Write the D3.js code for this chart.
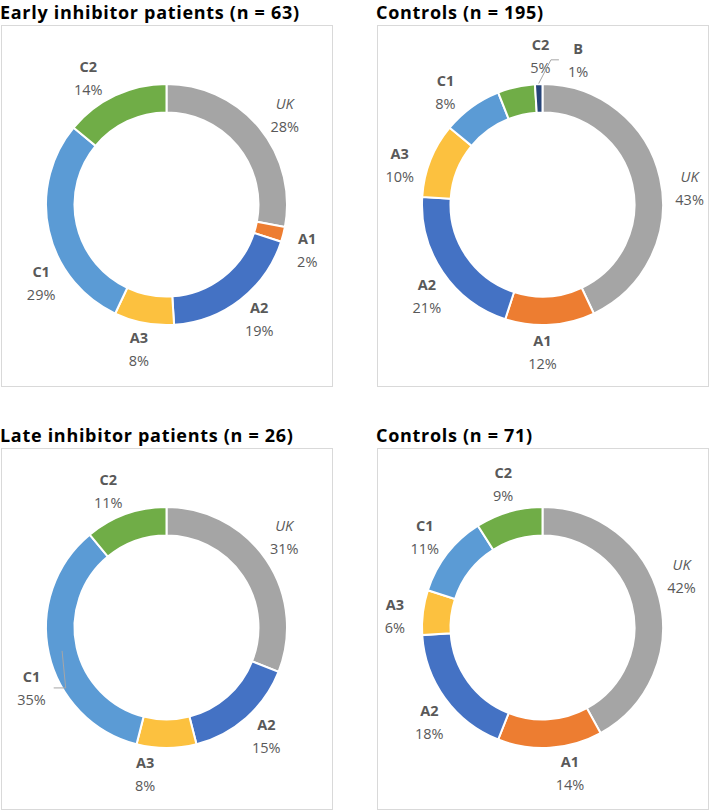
<!DOCTYPE html>
<html>
<head>
<meta charset="utf-8">
<script src="https://cdn.jsdelivr.net/npm/d3@7"></script>
<style>
  html, body { margin: 0; padding: 0; background: #ffffff; }
  svg { display: block; }
</style>
</head>
<body>
<svg id="chart" width="709" height="810"></svg>
<script>
// ---------------- DATA ----------------
const categories = ["UK", "A1", "A2", "A3", "C1", "C2", "B"];
const earlyInhibitorValues = [28, 2, 19, 8, 29, 14, 0];
const controls195Values   = [43, 12, 21, 10, 8, 5, 1];
const lateInhibitorValues  = [31, 0, 15, 8, 35, 11, 0];
const controls71Values     = [42, 14, 18, 6, 11, 9, 0];
const panelTitles = [
  "Early inhibitor patients (n = 63)",
  "Controls (n = 195)",
  "Late inhibitor patients (n = 26)",
  "Controls (n = 71)"
];

// ---------------- STYLE / LAYOUT ----------------
const colors = {
  UK: "#A5A5A5", A1: "#ED7D31", A2: "#4472C4", A3: "#FCC13F",
  C1: "#5B9BD5", C2: "#70AD47", B: "#264478"
};
const fontFamily = "'Open Sans', Lato, 'Liberation Sans', sans-serif";
const outerR = 120.5, innerR = 92, labelR = 148;

const panels = [
  { values: earlyInhibitorValues, box: { x: 1, y: 25, w: 331, h: 361 },
    nudge: { UK: 2.6, A1: 3.6, A2: -1, A3: 0, C1: -19.5, C2: -6.7 }, leaders: {} },
  { values: controls195Values, box: { x: 377, y: 25, w: 331, h: 361 },
    nudge: { UK: 6.3, A1: 3.6, A2: -4.4, A3: -6.3, C1: -5, C2: 11.8, B: 15.7 },
    leaders: { B: 121 } },
  { values: lateInhibitorValues, box: { x: 1, y: 448, w: 331, h: 361 },
    nudge: { UK: -3.1, A2: -1, A3: 8.3, C1: -11.5, C2: -3.4 }, leaders: { C1: 107 } },
  { values: controls71Values, box: { x: 377, y: 448, w: 331, h: 361 },
    nudge: { UK: -5.6, A1: -7.1, A2: -4.1, A3: -2.8, C1: -0.5, C2: 0.8 }, leaders: {} }
];

const svg = d3.select("#chart");
const pie = d3.pie().sort(null).value(d => d.value);
const arc = d3.arc().innerRadius(innerR).outerRadius(outerR);
const rad = Math.PI / 180;

panels.forEach((p, i) => {
  const g = svg.append("g");
  // frame
  g.append("rect")
    .attr("x", p.box.x + 0.5).attr("y", p.box.y + 0.5)
    .attr("width", p.box.w).attr("height", p.box.h)
    .attr("fill", "#fff").attr("stroke", "#D9D9D9").attr("stroke-width", 1);
  // title
  g.append("text")
    .attr("x", p.box.x - 1).attr("y", p.box.y - 6)
    .attr("font-family", fontFamily).attr("font-weight", "bold")
    .attr("font-size", 18).attr("letter-spacing", 0.7).attr("fill", "#000")
    .text(panelTitles[i]);

  const cx = p.box.x + p.box.w / 2, cy = p.box.y + p.box.h / 2 - 1;
  const data = categories.map((c, k) => ({ cat: c, value: p.values[k] }));
  const arcs = pie(data);
  const dg = g.append("g").attr("transform", `translate(${cx},${cy})`);

  dg.selectAll("path").data(arcs.filter(a => a.data.value > 0)).join("path")
    .attr("d", arc)
    .attr("fill", a => colors[a.data.cat])
    .attr("stroke", "#fff").attr("stroke-width", 2);

  arcs.filter(a => a.data.value > 0).forEach(a => {
    const mid = (a.startAngle + a.endAngle) / 2;
    const ang = mid + (p.nudge[a.data.cat] || 0) * rad;
    const lx = labelR * Math.sin(ang), ly = -labelR * Math.cos(ang);
    const t = dg.append("text")
      .attr("font-family", fontFamily).attr("font-size", 14.5)
      .attr("fill", "#595959").attr("text-anchor", "middle");
    t.append("tspan").attr("x", lx).attr("y", ly - 11.5).attr("dy", "0.35em")
      .attr("font-style", a.data.cat === "UK" ? "italic" : "normal")
      .attr("font-weight", a.data.cat === "UK" ? "normal" : "bold")
      .text(a.data.cat);
    const pct = t.append("tspan").attr("x", lx).attr("y", ly + 11.5).attr("dy", "0.35em")
      .text(a.data.value + "%");

    const lr = p.leaders[a.data.cat];
    if (lr) {
      const w = pct.node().getComputedTextLength();
      const px = lr * Math.sin(mid), py = -lr * Math.cos(mid);
      const onLeft = lx < px;
      const sx = onLeft ? lx + w / 2 + 8 : lx - w / 2 - 9;
      const sy = onLeft ? ly : ly - 1;
      const hx = onLeft ? sx + 12 : sx - 8;
      dg.append("path")
        .attr("d", `M${sx},${sy}L${hx},${sy}L${px},${py}`)
        .attr("fill", "none").attr("stroke", "#A6A6A6").attr("stroke-width", 1);
    }
  });
});
</script>
</body>
</html>
